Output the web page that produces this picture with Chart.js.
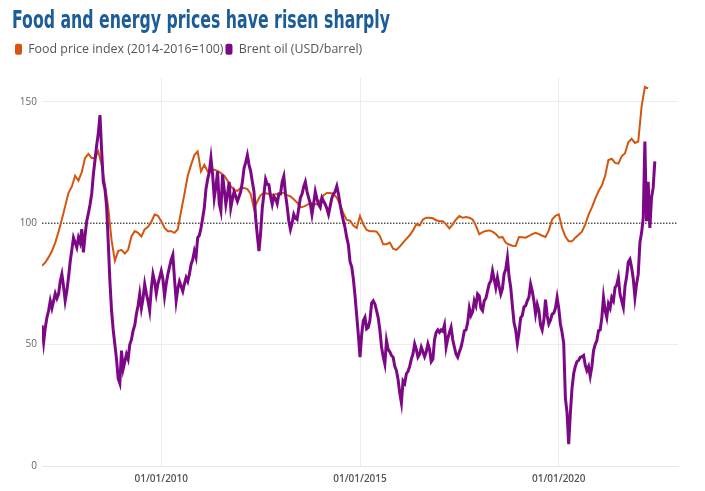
<!DOCTYPE html>
<html>
<head>
<meta charset="utf-8">
<script src="https://cdn.jsdelivr.net/npm/chart.js@4.4.1/dist/chart.umd.min.js"></script>
<style>
  html, body { margin: 0; padding: 0; background: #fff; }
  #wrap { position: relative; width: 705px; height: 491px; }
  #title {
    position: absolute; left: 12px; top: 7px; margin: 0;
    display: inline-block; white-space: nowrap; transform-origin: 0 0;
    font-family: "Liberation Sans Narrow", "DejaVu Sans Condensed", sans-serif;
    font-weight: bold; font-size: 25px; line-height: 1; color: #1b5c99;
  }
</style>
</head>
<body>
<div id="wrap">
  <h1 id="title">Food and energy prices have risen sharply</h1>
  <canvas id="chart" width="705" height="491"></canvas>
</div>
<script>
// FAO food price index, monthly from Jan 2007
const foodStartYear = 2007;
const foodIndex = [
    82.4, 83.8, 86, 88.5, 92, 96.5, 101.5, 107, 112.5, 115, 119.5, 117.5,
    121, 126.8, 128.5, 126.8, 126.8, 129.5, 124, 115.8, 106.3, 93, 84.5, 88.5,
    89, 87.5, 89, 94.5, 96.7, 96, 94.5, 97.4, 98.5, 100.5, 103.5, 103,
    100.8, 98, 96.7, 96.7, 96, 97.5, 105, 112, 119.5, 124, 128, 129.5,
    121.3, 124, 121.3, 122, 122, 121.5, 120.6, 119.5, 117.5, 115.2, 113.5, 113.3,
    114.5, 114.5, 114, 112, 106, 109, 111.5, 112.4, 112.2, 111.8, 111.7, 112,
    112.4, 112.4, 111.5, 111, 109.8, 108.5, 106.5, 106.8, 107.5, 108.3, 108, 107.7,
    109.5, 111.5, 112.4, 112.4, 112, 110.5, 107.5, 104, 101.3, 101, 99, 98,
    102.9, 99.5, 97.2, 96.7, 96.7, 96.5, 94.7, 91.3, 91.3, 92, 89.5, 89,
    90.3, 92, 93.5, 95, 97, 99.5, 99, 101.5, 102.2, 102.2, 102, 101.2,
    100.8, 100.8, 99.5, 97.8, 99.5, 101.5, 102.9, 102.2, 102.5, 102.2, 101.5, 99,
    95.4, 96.3, 96.8, 97, 96.5, 95.5, 94, 94.3, 91.9, 91.2, 90.7, 90.6,
    94.3, 94.2, 94, 94.7, 95.5, 96, 95.5, 94.8, 94.3, 97, 101.5, 103,
    103.6, 98.1, 94.5, 92.5, 92.5, 94, 95.2, 96.5, 99.5, 103.5, 106.5, 110,
    113.1, 115.5, 119.5, 126, 126.5, 124.8, 124.5, 127.5, 128.8, 133.3, 134.7, 133,
    133.6, 148, 156.1, 155.5
];

// Brent oil, USD/barrel, twice a month from Jan 2007
const brentStartYear = 2007;
const brentOil = [
    58, 51, 57, 61.2, 64, 68, 65, 68, 71, 69, 70.8, 76, 79, 74, 68, 72, 77.6, 84, 89, 94, 92, 90, 94, 92,
    97.5, 88, 95, 100.8, 104, 107.7, 112, 120, 126, 132, 137, 144.5, 130, 117, 114, 107, 92, 76, 64, 56, 50, 44, 36, 34,
    47.5, 40, 43, 46, 44, 50, 52, 55.7, 58, 62.6, 66, 70.8, 65, 69, 74.9, 71, 68, 64, 73, 79, 76, 71, 75, 77.6,
    80.3, 77, 70, 75, 79, 82, 85, 87, 77, 68, 73, 76, 74, 72, 75, 77.6, 76, 79, 83, 85, 88.5, 86, 94, 95,
    98, 102, 106.3, 114, 118, 121, 126.8, 120, 110.4, 115, 121.3, 108, 105, 120, 114, 107.7, 112, 117, 106.3, 110, 113, 111, 109, 111,
    113, 117, 122.7, 125, 128, 124, 121.3, 117, 113, 102, 95, 88.5, 96, 106.3, 112, 118, 116, 115.8, 111, 107.7, 111, 110, 108, 112,
    112, 117, 119.3, 112, 107, 101, 97.4, 100, 103.6, 102, 101.5, 106, 110.4, 112, 115, 117, 113, 110.4, 108, 103.6, 108, 113, 110, 107.7,
    106.5, 110.4, 109, 107.7, 106, 103.6, 107, 110.4, 112, 113, 115.2, 112, 107.7, 104, 100.8, 98, 94, 91, 84, 82, 77, 70, 62, 54,
    44.8, 54, 59.8, 61.2, 56.5, 57.1, 60, 67, 68, 66.7, 64, 61, 56, 49, 45, 42, 51.6, 48, 47, 45.5, 44.8, 41, 39.3, 35.5,
    30, 26, 35, 34, 38, 39, 41, 44, 46.2, 50.3, 48, 44.8, 46, 48.9, 47, 45, 47, 50.3, 48, 43, 44, 52, 55, 56,
    55, 56, 55.5, 58, 49, 52.5, 55, 57.1, 52, 48.9, 46, 44.8, 47, 48.9, 52, 55.7, 56, 59, 65, 62, 63.5, 68, 66, 70.8,
    70, 65, 64, 68, 69, 72, 75, 76.2, 80.3, 77, 73.5, 77.6, 74, 70.8, 73, 79, 81, 85.8, 78, 73.5, 66, 59, 56, 50.5,
    55, 61, 62, 65.5, 66, 68, 69.5, 74.9, 72, 68, 62.6, 66.5, 64, 58, 56, 60, 68.5, 62, 58.5, 60, 62.5, 63, 65, 69.4,
    65, 58.5, 55, 50.5, 28, 22, 9, 21.6, 32, 38, 41, 43, 43.5, 44.8, 45, 45.5, 41.5, 39.3, 41, 37, 41, 47.5, 50, 51.6,
    55.7, 56, 61, 69.4, 64, 61.2, 66.7, 65, 69.4, 68, 73.5, 74.5, 77.6, 70.8, 68, 65.3, 74, 78, 84, 85.1, 81.7, 77, 69.4, 75,
    79, 92, 96, 102, 133.6, 100.8, 117, 98, 110.4, 114.5, 125.4
];

const xMin = 2007;
const xMax = 2023;
const xTickYears = [2010, 2015, 2020];
const yTicks = [0, 50, 100, 150];
const referenceLevel = 100;

const foodColor = '#d4560e';
const brentColor = '#7c0886';

// squeeze the heading to the width of the original
const title = document.getElementById('title');
title.style.transform = 'scaleX(' + (378 / title.getBoundingClientRect().width) + ')';

Chart.defaults.font.family = "'Open Sans', sans-serif";

// extra space under the legend
const legendGap = {
    id: 'legendGap',
    beforeLayout(chart) {
        const legend = chart.legend;
        if (legend && !legend._gapPatched) {
            const fit = legend.fit;
            legend.fit = function () {
                fit.call(this);
                this.height += 12;
            };
            legend._gapPatched = true;
        }
    }
};

new Chart(document.getElementById('chart'), {
    type: 'line',
    data: {
        datasets: [{
            label: 'Food price index (2014-2016=100)',
            data: foodIndex.map((v, i) => ({x: foodStartYear + i / 12, y: v})),
            borderColor: foodColor,
            backgroundColor: foodColor,
            borderWidth: 2,
            pointRadius: 0,
            order: 1
        }, {
            label: 'Brent oil (USD/barrel)',
            data: brentOil.map((v, i) => ({x: brentStartYear + i / 24, y: v})),
            borderColor: brentColor,
            backgroundColor: brentColor,
            borderWidth: 3,
            pointRadius: 0,
            order: 0
        }, {
            label: 'ref',
            data: [{x: xMin, y: referenceLevel}, {x: xMax, y: referenceLevel}],
            borderColor: '#555',
            borderWidth: 1.5,
            borderDash: [1.5, 1.5],
            pointRadius: 0,
            order: 2
        }]
    },
    options: {
        responsive: false,
        animation: false,
        layout: {padding: {top: 41, left: 13, right: 27, bottom: 0}},
        plugins: {
            tooltip: {enabled: false},
            legend: {
                position: 'top',
                align: 'start',
                labels: {
                    boxWidth: 7,
                    boxHeight: 11,
                    padding: 2,
                    color: '#555',
                    font: {size: 12.4},
                    useBorderRadius: true,
                    borderRadius: 2,
                    filter: item => item.datasetIndex < 2,
                    sort: (a, b) => a.datasetIndex - b.datasetIndex,
                    generateLabels(chart) {
                        return Chart.defaults.plugins.legend.labels.generateLabels(chart).map(item => {
                            item.fillStyle = item.strokeStyle;
                            item.lineWidth = 0;
                            return item;
                        });
                    }
                }
            }
        },
        scales: {
            x: {
                type: 'linear',
                min: xMin,
                max: xMax,
                afterBuildTicks: scale => {
                    scale.ticks = xTickYears.map(v => ({value: v}));
                },
                afterFit: scale => {
                    scale.height = 25;
                },
                ticks: {
                    autoSkip: false,
                    maxRotation: 0,
                    padding: 7,
                    color: '#555',
                    font: {size: 10, weight: '600'},
                    callback: value => '01/01/' + value
                },
                grid: {color: '#ececec', drawTicks: false},
                border: {display: true, color: '#e6e6e6'}
            },
            y: {
                min: 0,
                max: 160,
                afterBuildTicks: scale => {
                    scale.ticks = yTicks.map(v => ({value: v}));
                },
                afterFit: scale => {
                    scale.width = 29;
                },
                ticks: {
                    padding: 5,
                    color: '#666',
                    font: {size: 10}
                },
                grid: {
                    drawTicks: false,
                    color: ctx => ctx.tick && ctx.tick.value === referenceLevel ? 'rgba(0,0,0,0)' : '#ececec'
                },
                border: {display: false}
            }
        }
    },
    plugins: [legendGap]
});
</script>
</body>
</html>
